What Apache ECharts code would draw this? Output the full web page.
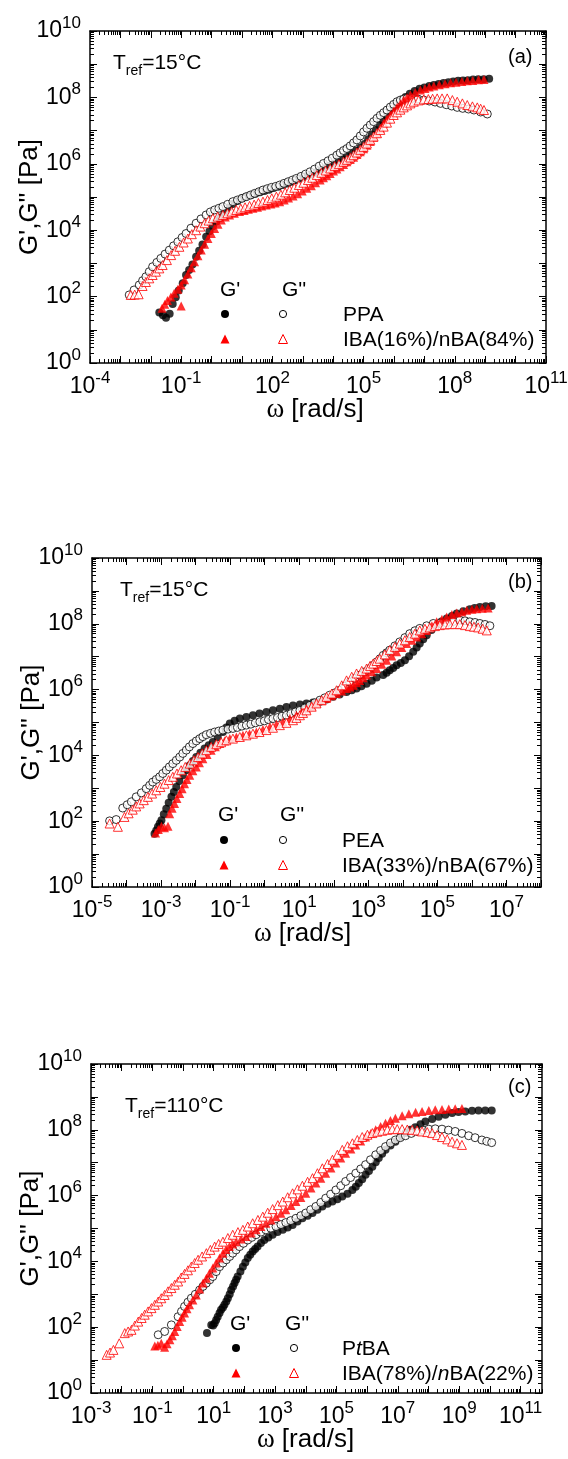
<!DOCTYPE html>
<html><head><meta charset="utf-8">
<script src="https://cdn.jsdelivr.net/npm/echarts@6/dist/echarts.min.js"></script>
<style>html,body{margin:0;padding:0;background:#fff}#c{width:568px;height:1459px}</style>
</head><body><div id="c"></div>
<script>
// All values are [log10(ω / rad·s⁻¹), log10(G / Pa)].
// Panel (a): PPA and IBA(16%)/nBA(84%), Tref = 15 °C
const aPPA_Gp = [[-1.72,1.52],[-1.60,1.44],[-1.50,1.36],[-1.38,1.48],[-1.28,1.78],[-1.18,1.98],[-1.08,2.18],[-0.95,2.40],[-0.84,2.65],[-0.74,2.80],[-0.63,2.97],[-0.51,3.20],[-0.41,3.38],[-0.30,3.57],[-0.18,3.80],[-0.07,3.97],[0.04,4.12],[0.15,4.26],[0.28,4.38],[0.42,4.52],[0.56,4.68],[0.70,4.79],[0.85,4.88],[1.00,4.96],[1.14,5.01],[1.29,5.05],[1.44,5.10],[1.59,5.14],[1.74,5.18],[1.89,5.22],[2.04,5.27],[2.19,5.31],[2.35,5.36],[2.50,5.41],[2.65,5.46],[2.79,5.51],[2.94,5.56],[3.09,5.62],[3.24,5.67],[3.39,5.73],[3.54,5.80],[3.69,5.86],[3.84,5.93],[3.99,6.00],[4.14,6.07],[4.29,6.15],[4.45,6.23],[4.60,6.31],[4.75,6.39],[4.90,6.49],[5.03,6.60],[5.15,6.74],[5.27,6.88],[5.40,7.02],[5.52,7.16],[5.64,7.30],[5.76,7.44],[5.88,7.57],[6.00,7.68],[6.12,7.79],[6.25,7.91],[6.38,8.01],[6.52,8.11],[6.68,8.19],[6.84,8.26],[7.00,8.30],[7.16,8.34],[7.31,8.37],[7.47,8.40],[7.63,8.43],[7.79,8.46],[7.95,8.48],[8.11,8.50],[8.27,8.51],[8.43,8.52],[8.60,8.54],[8.77,8.55],[8.95,8.55],[9.13,8.56]];
const aPPA_Gpp = [[-2.71,2.05],[-2.55,2.20],[-2.38,2.35],[-2.27,2.48],[-2.16,2.60],[-2.05,2.75],[-1.94,2.90],[-1.80,3.03],[-1.67,3.15],[-1.53,3.28],[-1.39,3.40],[-1.25,3.53],[-1.11,3.65],[-0.97,3.78],[-0.84,3.90],[-0.68,4.06],[-0.51,4.21],[-0.35,4.34],[-0.18,4.46],[-0.04,4.55],[0.10,4.61],[0.24,4.66],[0.37,4.71],[0.53,4.78],[0.70,4.86],[0.85,4.91],[1.00,4.96],[1.14,5.01],[1.28,5.06],[1.42,5.11],[1.56,5.16],[1.69,5.21],[1.83,5.25],[1.97,5.29],[2.11,5.32],[2.24,5.36],[2.38,5.41],[2.52,5.46],[2.66,5.51],[2.79,5.56],[2.94,5.62],[3.09,5.69],[3.24,5.76],[3.39,5.84],[3.54,5.93],[3.68,6.01],[3.83,6.09],[3.97,6.17],[4.12,6.26],[4.23,6.33],[4.34,6.40],[4.45,6.46],[4.56,6.54],[4.67,6.63],[4.78,6.72],[4.89,6.84],[5.00,6.96],[5.11,7.07],[5.22,7.17],[5.33,7.27],[5.44,7.37],[5.55,7.46],[5.66,7.54],[5.77,7.62],[5.88,7.71],[5.99,7.79],[6.10,7.87],[6.21,7.92],[6.32,7.95],[6.43,7.97],[6.60,7.97],[6.79,7.95],[6.98,7.92],[7.16,7.89],[7.35,7.86],[7.53,7.82],[7.72,7.78],[7.90,7.74],[8.08,7.70],[8.26,7.67],[8.45,7.65],[8.63,7.62],[8.85,7.56],[9.07,7.50]];
const aIBA_Gp = [[-1.63,1.65],[-1.54,1.77],[-1.45,1.88],[-1.34,1.99],[-1.23,2.10],[-1.00,1.72],[-1.11,2.22],[-1.00,2.35],[-0.89,2.51],[-0.78,2.68],[-0.67,2.87],[-0.56,3.05],[-0.45,3.23],[-0.34,3.40],[-0.23,3.58],[-0.12,3.75],[-0.01,3.90],[0.10,4.05],[0.21,4.18],[0.32,4.31],[0.45,4.40],[0.59,4.46],[0.75,4.51],[0.92,4.56],[1.07,4.59],[1.21,4.63],[1.36,4.66],[1.51,4.69],[1.65,4.73],[1.80,4.76],[1.95,4.79],[2.09,4.82],[2.24,4.86],[2.39,4.91],[2.53,4.97],[2.68,5.03],[2.83,5.10],[2.98,5.18],[3.13,5.26],[3.28,5.34],[3.42,5.43],[3.57,5.51],[3.68,5.58],[3.79,5.64],[3.90,5.71],[4.01,5.78],[4.12,5.84],[4.23,5.91],[4.34,5.98],[4.45,6.06],[4.56,6.13],[4.67,6.20],[4.78,6.28],[4.89,6.36],[5.00,6.45],[5.11,6.56],[5.22,6.67],[5.33,6.80],[5.44,6.92],[5.55,7.07],[5.66,7.22],[5.77,7.35],[5.88,7.47],[5.99,7.59],[6.10,7.70],[6.21,7.81],[6.32,7.92],[6.43,8.00],[6.54,8.07],[6.70,8.15],[6.87,8.22],[7.02,8.27],[7.16,8.31],[7.31,8.34],[7.49,8.38],[7.68,8.41],[7.86,8.44],[8.04,8.46],[8.23,8.48],[8.41,8.50],[8.59,8.51],[8.78,8.53],[8.96,8.54]];
const aIBA_Gpp = [[-2.66,2.05],[-2.53,2.06],[-2.40,2.07],[-2.27,2.32],[-2.16,2.44],[-2.05,2.55],[-1.94,2.65],[-1.83,2.75],[-1.72,2.85],[-1.61,2.95],[-1.47,3.10],[-1.33,3.25],[-1.20,3.38],[-1.06,3.50],[-0.92,3.63],[-0.78,3.75],[-0.65,3.88],[-0.51,4.00],[-0.37,4.11],[-0.23,4.21],[-0.10,4.29],[0.04,4.36],[0.20,4.41],[0.37,4.46],[0.52,4.51],[0.66,4.56],[0.81,4.61],[0.96,4.65],[1.10,4.69],[1.25,4.73],[1.40,4.77],[1.54,4.82],[1.69,4.86],[1.84,4.91],[1.98,4.96],[2.13,5.01],[2.28,5.07],[2.42,5.14],[2.57,5.21],[2.72,5.28],[2.87,5.36],[3.02,5.43],[3.17,5.51],[3.31,5.58],[3.46,5.66],[3.61,5.73],[3.75,5.80],[3.90,5.86],[4.05,5.93],[4.19,5.99],[4.34,6.06],[4.45,6.12],[4.56,6.19],[4.67,6.26],[4.78,6.34],[4.89,6.42],[5.00,6.51],[5.11,6.61],[5.22,6.72],[5.33,6.82],[5.44,6.92],[5.55,7.02],[5.66,7.12],[5.77,7.24],[5.88,7.36],[5.99,7.47],[6.10,7.55],[6.21,7.63],[6.32,7.70],[6.43,7.76],[6.54,7.82],[6.65,7.87],[6.81,7.91],[6.98,7.94],[7.13,7.95],[7.27,7.96],[7.42,7.97],[7.58,7.97],[7.75,7.97],[7.92,7.92],[8.08,7.87],[8.25,7.82],[8.41,7.77],[8.58,7.73],[8.74,7.70],[8.85,7.66],[8.96,7.62]];

// Panel (b): PEA and IBA(33%)/nBA(67%), Tref = 15 °C
const bPEA_Gp = [[-3.19,1.62],[-3.14,1.72],[-3.09,1.83],[-3.04,1.93],[-2.99,2.03],[-2.92,2.21],[-2.85,2.38],[-2.78,2.56],[-2.70,2.74],[-2.63,2.89],[-2.56,3.04],[-2.47,3.22],[-2.37,3.40],[-2.27,3.55],[-2.17,3.70],[-2.08,3.83],[-1.98,3.95],[-1.86,4.08],[-1.74,4.21],[-1.62,4.31],[-1.50,4.41],[-1.36,4.55],[-1.21,4.71],[-1.11,4.85],[-1.01,4.97],[-0.87,5.05],[-0.72,5.12],[-0.53,5.17],[-0.34,5.22],[-0.15,5.27],[0.05,5.32],[0.24,5.37],[0.44,5.42],[0.63,5.47],[0.82,5.52],[1.02,5.55],[1.21,5.58],[1.40,5.61],[1.60,5.63],[1.79,5.70],[1.98,5.78],[2.17,5.85],[2.37,5.93],[2.52,5.98],[2.66,6.03],[2.80,6.10],[2.95,6.18],[3.10,6.27],[3.24,6.37],[3.43,6.44],[3.53,6.51],[3.62,6.59],[3.72,6.66],[3.82,6.74],[3.94,6.81],[4.06,6.89],[4.18,7.01],[4.30,7.15],[4.40,7.28],[4.49,7.40],[4.59,7.53],[4.69,7.65],[4.83,7.81],[4.98,7.96],[5.12,8.07],[5.27,8.16],[5.42,8.24],[5.56,8.31],[5.75,8.38],[5.94,8.44],[6.08,8.48],[6.23,8.51],[6.40,8.53],[6.57,8.54]];
const bPEA_Gpp = [[-4.49,2.01],[-4.30,2.05],[-4.11,2.40],[-3.98,2.50],[-3.86,2.59],[-3.72,2.74],[-3.57,2.86],[-3.43,2.99],[-3.33,3.09],[-3.24,3.19],[-3.14,3.27],[-3.04,3.35],[-2.95,3.45],[-2.85,3.55],[-2.76,3.65],[-2.66,3.75],[-2.56,3.85],[-2.46,3.95],[-2.37,4.06],[-2.27,4.16],[-2.18,4.26],[-2.08,4.36],[-1.98,4.44],[-1.88,4.51],[-1.79,4.57],[-1.69,4.63],[-1.57,4.67],[-1.45,4.71],[-1.33,4.74],[-1.21,4.77],[-1.06,4.80],[-0.92,4.82],[-0.79,4.85],[-0.66,4.89],[-0.53,4.92],[-0.40,4.95],[-0.27,4.99],[-0.14,5.02],[-0.01,5.05],[0.11,5.09],[0.24,5.12],[0.37,5.15],[0.50,5.19],[0.63,5.22],[0.76,5.27],[0.89,5.32],[1.02,5.37],[1.16,5.44],[1.31,5.52],[1.45,5.60],[1.60,5.68],[1.74,5.75],[1.88,5.83],[2.03,5.90],[2.17,5.98],[2.32,6.10],[2.46,6.23],[2.61,6.34],[2.75,6.44],[2.90,6.54],[3.04,6.64],[3.14,6.74],[3.24,6.84],[3.34,6.94],[3.43,7.04],[3.53,7.12],[3.62,7.20],[3.77,7.33],[3.91,7.45],[4.06,7.58],[4.20,7.70],[4.35,7.79],[4.49,7.86],[4.69,7.94],[4.88,8.01],[5.08,8.02],[5.27,8.03],[5.46,8.07],[5.65,8.11],[5.80,8.09],[5.94,8.06],[6.09,8.04],[6.23,8.01],[6.38,7.98],[6.52,7.94]];
const bIBA_Gp = [[-3.16,1.64],[-3.08,1.75],[-2.99,1.85],[-2.90,1.80],[-2.80,1.85],[-2.75,2.23],[-2.68,2.39],[-2.61,2.54],[-2.54,2.69],[-2.46,2.84],[-2.39,2.99],[-2.32,3.14],[-2.25,3.27],[-2.17,3.40],[-2.08,3.53],[-1.98,3.65],[-1.89,3.78],[-1.79,3.90],[-1.67,4.03],[-1.55,4.16],[-1.43,4.26],[-1.30,4.36],[-1.16,4.44],[-1.01,4.51],[-0.82,4.56],[-0.63,4.61],[-0.44,4.66],[-0.24,4.71],[-0.05,4.79],[0.15,4.87],[0.34,4.95],[0.53,5.02],[0.73,5.12],[0.92,5.22],[1.07,5.32],[1.21,5.42],[1.36,5.50],[1.50,5.58],[1.65,5.66],[1.79,5.73],[1.94,5.81],[2.08,5.88],[2.23,5.96],[2.37,6.03],[2.47,6.08],[2.56,6.13],[2.66,6.21],[2.75,6.28],[2.85,6.36],[2.95,6.44],[3.10,6.54],[3.24,6.64],[3.39,6.77],[3.53,6.89],[3.68,7.02],[3.82,7.15],[3.97,7.28],[4.11,7.40],[4.26,7.50],[4.40,7.60],[4.55,7.70],[4.69,7.80],[4.84,7.94],[4.98,8.06],[5.13,8.14],[5.27,8.21],[5.42,8.28],[5.56,8.33],[5.71,8.37],[5.85,8.41],[6.00,8.44],[6.14,8.46],[6.30,8.47],[6.47,8.48]];
const bIBA_Gpp = [[-4.49,1.93],[-4.25,1.83],[-4.06,2.13],[-3.94,2.24],[-3.82,2.35],[-3.72,2.45],[-3.62,2.54],[-3.50,2.64],[-3.38,2.74],[-3.26,2.84],[-3.14,2.94],[-3.02,3.04],[-2.90,3.14],[-2.78,3.25],[-2.66,3.35],[-2.54,3.45],[-2.42,3.55],[-2.30,3.65],[-2.17,3.75],[-2.05,3.85],[-1.93,3.95],[-1.81,4.06],[-1.69,4.16],[-1.55,4.26],[-1.40,4.34],[-1.26,4.40],[-1.11,4.46],[-0.92,4.51],[-0.72,4.56],[-0.53,4.61],[-0.34,4.66],[-0.15,4.71],[0.05,4.77],[0.24,4.84],[0.44,4.92],[0.63,4.99],[0.82,5.07],[0.92,5.14],[1.02,5.22],[1.11,5.29],[1.21,5.37],[1.36,5.48],[1.50,5.58],[1.65,5.68],[1.79,5.78],[1.94,5.88],[2.08,5.98],[2.23,6.13],[2.37,6.28],[2.52,6.39],[2.66,6.49],[2.81,6.57],[2.95,6.64],[3.05,6.72],[3.14,6.79],[3.24,6.87],[3.33,6.94],[3.48,7.07],[3.62,7.20],[3.77,7.30],[3.91,7.40],[4.06,7.50],[4.20,7.60],[4.35,7.70],[4.49,7.80],[4.64,7.85],[4.78,7.89],[4.93,7.93],[5.07,7.96],[5.22,7.98],[5.36,7.99],[5.51,7.99],[5.65,7.99],[5.80,7.96],[5.94,7.93],[6.06,7.91],[6.18,7.89],[6.31,7.85],[6.43,7.80]];

// Panel (c): PtBA and IBA(78%)/nBA(22%), Tref = 110 °C
const cPTBA_Gp = [[0.78,1.82],[0.92,2.07],[0.98,2.05],[1.03,2.12],[1.08,2.22],[1.13,2.32],[1.19,2.43],[1.24,2.53],[1.30,2.60],[1.35,2.68],[1.41,2.78],[1.46,2.88],[1.52,3.00],[1.57,3.13],[1.63,3.24],[1.68,3.34],[1.73,3.44],[1.78,3.54],[1.87,3.69],[1.95,3.84],[2.03,3.97],[2.11,4.10],[2.19,4.20],[2.27,4.30],[2.35,4.38],[2.43,4.45],[2.54,4.56],[2.65,4.65],[2.78,4.73],[2.92,4.81],[3.08,4.89],[3.25,4.96],[3.41,5.03],[3.57,5.11],[3.73,5.21],[3.89,5.31],[4.06,5.39],[4.22,5.47],[4.38,5.57],[4.54,5.67],[4.71,5.75],[4.87,5.82],[5.03,5.89],[5.19,5.97],[5.36,6.06],[5.52,6.17],[5.63,6.27],[5.73,6.38],[5.84,6.50],[5.95,6.63],[6.06,6.75],[6.17,6.88],[6.28,7.01],[6.38,7.14],[6.49,7.27],[6.60,7.39],[6.76,7.52],[6.92,7.64],[7.09,7.78],[7.25,7.90],[7.41,8.00],[7.57,8.08],[7.74,8.17],[7.90,8.25],[8.12,8.33],[8.33,8.40],[8.55,8.46],[8.77,8.51],[8.98,8.54],[9.20,8.56],[9.42,8.58],[9.63,8.59],[9.85,8.59],[10.06,8.59]];
const cPTBA_Gpp = [[-0.81,1.77],[-0.60,1.87],[-0.38,2.07],[-0.16,2.32],[-0.05,2.48],[0.05,2.63],[0.16,2.76],[0.27,2.88],[0.40,3.00],[0.54,3.13],[0.65,3.24],[0.76,3.34],[0.87,3.44],[0.97,3.54],[1.08,3.69],[1.19,3.84],[1.30,3.95],[1.41,4.05],[1.52,4.15],[1.62,4.25],[1.73,4.35],[1.84,4.45],[1.97,4.55],[2.11,4.65],[2.24,4.73],[2.38,4.81],[2.54,4.89],[2.70,4.96],[2.86,5.01],[3.03,5.06],[3.19,5.12],[3.35,5.18],[3.51,5.24],[3.68,5.31],[3.84,5.39],[4.00,5.47],[4.16,5.57],[4.33,5.67],[4.49,5.79],[4.65,5.92],[4.81,6.04],[4.98,6.17],[5.14,6.30],[5.30,6.43],[5.46,6.55],[5.63,6.68],[5.79,6.81],[5.95,6.94],[6.11,7.09],[6.28,7.24],[6.44,7.37],[6.60,7.49],[6.76,7.60],[6.92,7.69],[7.08,7.76],[7.25,7.82],[7.44,7.89],[7.63,7.95],[7.82,7.99],[8.01,8.02],[8.22,8.03],[8.44,8.02],[8.65,7.99],[8.87,7.95],[9.09,7.89],[9.31,7.82],[9.52,7.76],[9.74,7.69],[9.90,7.65],[10.06,7.61]];
const cIBA_Gp = [[-0.92,1.43],[-0.82,1.45],[-0.71,1.51],[-0.60,1.39],[-0.52,1.50],[-0.43,1.62],[-0.35,1.74],[-0.27,1.87],[-0.19,2.02],[-0.11,2.17],[-0.03,2.30],[0.05,2.43],[0.13,2.56],[0.21,2.68],[0.32,2.83],[0.43,2.98],[0.54,3.16],[0.65,3.34],[0.76,3.49],[0.86,3.64],[0.97,3.80],[1.08,3.95],[1.19,4.10],[1.30,4.25],[1.40,4.36],[1.51,4.45],[1.62,4.53],[1.73,4.60],[1.89,4.68],[2.05,4.76],[2.22,4.86],[2.38,4.96],[2.54,5.06],[2.70,5.16],[2.87,5.26],[3.03,5.36],[3.19,5.46],[3.35,5.57],[3.52,5.70],[3.68,5.82],[3.84,5.94],[4.00,6.07],[4.17,6.23],[4.33,6.38],[4.49,6.53],[4.65,6.68],[4.82,6.84],[4.98,6.99],[5.14,7.14],[5.30,7.29],[5.47,7.42],[5.63,7.54],[5.79,7.66],[5.95,7.78],[6.12,7.89],[6.28,8.00],[6.44,8.10],[6.60,8.20],[6.76,8.28],[6.92,8.35],[7.14,8.43],[7.36,8.49],[7.58,8.53],[7.79,8.56],[8.01,8.59],[8.22,8.61],[8.44,8.62],[8.66,8.63],[8.87,8.64],[9.09,8.65]];
const cIBA_Gpp = [[-2.49,1.16],[-2.38,1.23],[-2.27,1.31],[-2.08,1.51],[-1.90,1.82],[-1.79,1.87],[-1.68,1.92],[-1.57,2.05],[-1.46,2.17],[-1.35,2.28],[-1.25,2.38],[-1.14,2.48],[-1.03,2.58],[-0.92,2.68],[-0.81,2.78],[-0.71,2.88],[-0.60,2.98],[-0.49,3.09],[-0.38,3.19],[-0.27,3.29],[-0.16,3.39],[-0.06,3.51],[0.05,3.62],[0.16,3.73],[0.27,3.84],[0.38,3.95],[0.49,4.05],[0.62,4.15],[0.76,4.25],[0.89,4.35],[1.03,4.45],[1.16,4.53],[1.30,4.60],[1.46,4.71],[1.62,4.81],[1.79,4.89],[1.95,4.96],[2.11,5.06],[2.27,5.16],[2.44,5.26],[2.60,5.36],[2.76,5.48],[2.92,5.59],[3.09,5.71],[3.25,5.82],[3.41,5.95],[3.57,6.07],[3.73,6.19],[3.89,6.30],[4.06,6.42],[4.22,6.53],[4.38,6.68],[4.54,6.83],[4.71,6.96],[4.87,7.09],[5.03,7.24],[5.19,7.39],[5.36,7.50],[5.52,7.59],[5.68,7.69],[5.84,7.78],[6.01,7.85],[6.17,7.90],[6.33,7.94],[6.49,7.97],[6.66,8.00],[6.82,8.02],[6.98,8.02],[7.14,8.02],[7.31,8.01],[7.47,8.00],[7.63,7.98],[7.79,7.95],[7.96,7.93],[8.12,7.90],[8.28,7.84],[8.44,7.78],[8.61,7.71],[8.77,7.64],[8.93,7.59],[9.09,7.54]];

// Tick labels (exponents of 10)
const xLabA = [-4,-1,2,5,8,11];
const xLabB = [-5,-3,-1,1,3,5,7];
const xLabC = [-3,-1,1,3,5,7,9,11];
const yLab = [0,2,4,6,8,10];
const sampleNames = [["PPA","IBA(16%)/nBA(84%)"],["PEA","IBA(33%)/nBA(67%)"],["PtBA","IBA(78%)/nBA(22%)"]];
const trefs = ["15°C","15°C","110°C"];
const tags = ["(a)","(b)","(c)"];

const F = '"Liberation Sans", Arial, Helvetica, sans-serif';
const panels = [
  {grid:{left:90,top:31,width:456,height:332}, xMin:-4, xMax:11, xLab:xLabA, data:[aPPA_Gp,aPPA_Gpp,aIBA_Gp,aIBA_Gpp], xNameShift:3,
   leg:{hx:[220,282], hy:290.5, mx:[225,283], my:[314,339], tx:343}, tref:[113,63.5], tag:[508,57]},
  {grid:{left:92,top:558,width:449,height:329}, xMin:-5, xMax:8, xLab:xLabB, data:[bPEA_Gp,bPEA_Gpp,bIBA_Gp,bIBA_Gpp], xNameShift:14,
   leg:{hx:[218,280], hy:815, mx:[224,283], my:[840,865], tx:342}, tref:[120,590.5], tag:[508,582]},
  {grid:{left:91,top:1064,width:451,height:329}, xMin:-3, xMax:11.7, xLab:xLabC, data:[cPTBA_Gp,cPTBA_Gpp,cIBA_Gp,cIBA_Gpp], xNameShift:11,
   leg:{hx:[230,285], hy:1324, mx:[236,294], my:[1348,1373], tx:342}, tref:[125,1106], tag:[508,1087]}
];

function logTicks(min,max){
  const major=[],minor=[];
  for(let n=Math.floor(min);n<=Math.ceil(max);n++){
    if(n>=min-1e-9&&n<=max+1e-9) major.push(n);
    for(let k=2;k<=9;k++){const v=n+Math.log10(k); if(v>min+1e-9&&v<max-1e-9) minor.push(v);}
  }
  return {major,minor};
}
const labelRich = {
  b:{fontSize:23,lineHeight:33,fontFamily:F,color:'#000'},
  s:{fontSize:17,lineHeight:17,verticalAlign:'top',fontFamily:F,color:'#000'}
};
const fmt = v => '{b|10}{s|' + Math.round(v) + '}';

const xAxes=[], yAxes=[], grids=[], series=[], graphic=[];
const styles = [
  {symbol:'circle',symbolSize:8,itemStyle:{color:'#000'}},
  {symbol:'circle',symbolSize:8,itemStyle:{color:'#fff',borderColor:'#000',borderWidth:1}},
  {symbol:'triangle',symbolSize:9,itemStyle:{color:'#ff0000'}},
  {symbol:'triangle',symbolSize:9,itemStyle:{color:'#fff',borderColor:'#ff0000',borderWidth:1}}
];
const seriesLabels = ["G'","G''","G'","G''"];

panels.forEach((p,i)=>{
  grids.push(Object.assign({containLabel:false,outerBoundsMode:'none'},p.grid));
  const xt=logTicks(p.xMin,p.xMax), yt=logTicks(0,10);
  const baseLine={color:'#000',width:1.5};
  ['bottom','top'].forEach(pos=>{
    ['major','minor'].forEach(kind=>{
      const ax={type:'value',gridIndex:i,min:p.xMin,max:p.xMax,position:pos,splitLine:{show:false},
        axisLine:{show:kind==='major',onZero:false,lineStyle:baseLine},
        axisTick:{show:true,inside:true,length:kind==='major'?7:4,customValues:kind==='major'?xt.major:xt.minor,lineStyle:{color:'#000',width:1}},
        axisLabel:{show:false}};
      if(pos==='bottom'&&kind==='major'){
        ax.axisLabel={show:true,customValues:p.xLab,margin:7,formatter:fmt,rich:labelRich,showMinLabel:true,showMaxLabel:true};
        ax.name='{w|ω} [rad/s]'; ax.nameLocation='middle'; ax.nameGap=33; ax.nameMoveOverlap=false;
        ax.nameTextStyle={fontSize:26,fontFamily:F,color:'#000',padding:[0,2*p.xNameShift,0,0],
          rich:{w:{fontSize:27,fontFamily:'"Liberation Serif", "Times New Roman", serif',color:'#000'}}};
      }
      xAxes.push(ax);
    });
  });
  ['left','right'].forEach(pos=>{
    ['major','minor'].forEach(kind=>{
      const ax={type:'value',gridIndex:i,min:0,max:10,position:pos,splitLine:{show:false},
        axisLine:{show:kind==='major',onZero:false,lineStyle:baseLine},
        axisTick:{show:true,inside:true,length:kind==='major'?7:4,customValues:kind==='major'?yt.major:yt.minor,lineStyle:{color:'#000',width:1}},
        axisLabel:{show:false}};
      if(pos==='left'&&kind==='major'){
        ax.axisLabel={show:true,customValues:yLab,margin:9,formatter:fmt,rich:labelRich,showMinLabel:true,showMaxLabel:true};
        ax.name="G',G'' [Pa]"; ax.nameLocation='middle'; ax.nameGap=47; ax.nameRotate=90; ax.nameMoveOverlap=false;
        ax.nameTextStyle={fontSize:26,fontFamily:F,color:'#000'};
      }
      yAxes.push(ax);
    });
  });
  p.data.forEach((d,k)=>{
    series.push(Object.assign({type:'scatter',name:sampleNames[i][k<2?0:1]+' '+seriesLabels[k],xAxisIndex:4*i,yAxisIndex:4*i,data:d,
      emphasis:{disabled:true},silent:true,animation:false},JSON.parse(JSON.stringify(styles[k]))));
  });
  // legend block
  const L=p.leg;
  graphic.push({type:'text',x:L.hx[0],y:L.hy,style:{text:"G'",fontSize:21,fontFamily:F,fill:'#000',verticalAlign:'middle'}});
  graphic.push({type:'text',x:L.hx[1],y:L.hy,style:{text:"G''",fontSize:21,fontFamily:F,fill:'#000',verticalAlign:'middle'}});
  graphic.push({type:'circle',shape:{cx:L.mx[0],cy:L.my[0],r:4},style:{fill:'#000'}});
  graphic.push({type:'circle',shape:{cx:L.mx[1],cy:L.my[0],r:3.6},style:{fill:'#fff',stroke:'#000',lineWidth:1}});
  const tri=(x,y)=>[[x,y-4.5],[x+4.5,y+4.5],[x-4.5,y+4.5]];
  graphic.push({type:'polygon',shape:{points:tri(L.mx[0],L.my[1])},style:{fill:'#ff0000'}});
  graphic.push({type:'polygon',shape:{points:tri(L.mx[1],L.my[1])},style:{fill:'#fff',stroke:'#ff0000',lineWidth:1}});
  const nameRich={n:{fontSize:21,fontFamily:F,color:'#000'},i:{fontSize:21,fontFamily:F,fontStyle:'italic',color:'#000'}};
  const n0=sampleNames[i][0], n1=sampleNames[i][1];
  const t0 = i===2 ? '{n|P}{i|t}{n|BA}' : '{n|'+n0+'}';
  const t1 = i===2 ? '{n|IBA(78%)/}{i|n}{n|BA(22%)}' : '{n|'+n1+'}';
  graphic.push({type:'text',x:L.tx,y:L.my[0]+1,style:{text:t0,rich:nameRich,fontSize:21,fontFamily:F,fill:'#000',verticalAlign:'middle'}});
  graphic.push({type:'text',x:L.tx,y:L.my[1]+1,style:{text:t1,rich:nameRich,fontSize:21,fontFamily:F,fill:'#000',verticalAlign:'middle'}});
  // Tref and tag
  graphic.push({type:'text',x:p.tref[0],y:p.tref[1],style:{text:'{m|T}{s|ref}{m|='+trefs[i]+'}',verticalAlign:'middle',fontFamily:F,fill:'#000',
    rich:{m:{fontSize:21,lineHeight:30,fontFamily:F,color:'#000'},s:{fontSize:14,lineHeight:10,verticalAlign:'bottom',fontFamily:F,color:'#000'}}}});
  graphic.push({type:'text',x:p.tag[0],y:p.tag[1],style:{text:tags[i],fontSize:20,fontFamily:F,fill:'#000',verticalAlign:'middle'}});
});

const chart = echarts.init(document.getElementById('c'),null,{renderer:'canvas'});
chart.setOption({backgroundColor:'#fff',animation:false,grid:grids,xAxis:xAxes,yAxis:yAxes,series,graphic});
</script></body></html>
